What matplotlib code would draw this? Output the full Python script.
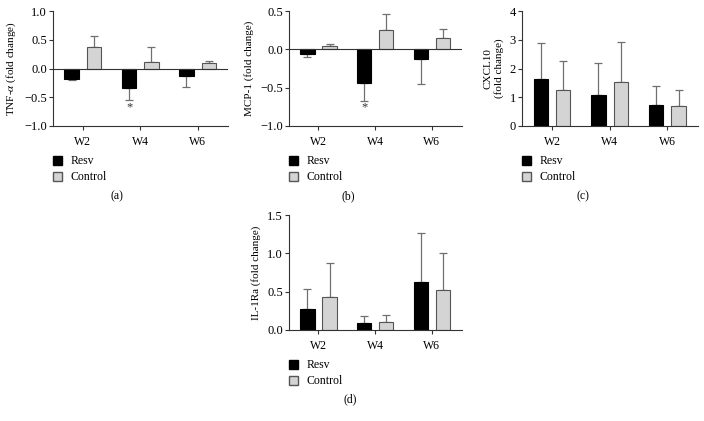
import numpy as np
import matplotlib
matplotlib.use("Agg")
import matplotlib.pyplot as plt
from matplotlib.patches import Patch

plt.rcParams['font.family'] = ['Liberation Serif', 'DejaVu Serif']
plt.rcParams['mathtext.fontset'] = 'stix'
plt.rcParams['font.size'] = 8
plt.rcParams['axes.linewidth'] = 0.8

weeks = ['W2', 'W4', 'W6']

# means and one-sided errors (in the direction of the bar)
tnf_resv = [-0.18, -0.345, -0.13]
tnf_resv_err = [0.025, 0.21, 0.20]
tnf_ctrl = [0.37, 0.11, 0.09]
tnf_ctrl_err = [0.20, 0.27, 0.04]

mcp_resv = [-0.065, -0.44, -0.125]
mcp_resv_err = [0.03, 0.23, 0.33]
mcp_ctrl = [0.05, 0.255, 0.145]
mcp_ctrl_err = [0.015, 0.20, 0.115]

cxcl_resv = [1.63, 1.09, 0.72]
cxcl_resv_err = [1.24, 1.09, 0.68]
cxcl_ctrl = [1.24, 1.52, 0.71]
cxcl_ctrl_err = [1.01, 1.41, 0.55]

il_resv = [0.28, 0.095, 0.625]
il_resv_err = [0.25, 0.09, 0.635]
il_ctrl = [0.43, 0.105, 0.52]
il_ctrl_err = [0.44, 0.085, 0.48]

W, H = 704, 421
fig = plt.figure(figsize=(W / 100, H / 100), dpi=100)


def add_ax(left, right, top, bottom):
    return fig.add_axes([left / W, 1 - bottom / H, (right - left) / W, (bottom - top) / H])


def panel(ax, resv, resv_err, ctrl, ctrl_err, ylim, yticks, ylabel, star=None):
    x = np.arange(len(weeks))
    w = 0.25
    off = 0.195
    for vals, errs, dx, fc, ec in [(resv, resv_err, -off, 'black', 'black'),
                                   (ctrl, ctrl_err, off, '#d4d4d4', '#555555')]:
        vals = np.array(vals)
        errs = np.array(errs)
        ax.bar(x + dx, vals, w, color=fc, edgecolor=ec, linewidth=0.8, zorder=2)
        lower = np.where(vals < 0, errs, 0)
        upper = np.where(vals >= 0, errs, 0)
        ax.errorbar(x + dx, vals, yerr=[lower, upper], fmt='none', ecolor='#707070',
                    elinewidth=0.9, capsize=3, capthick=0.9, zorder=1)
    if ylim[0] < 0:
        ax.axhline(0, color='#333333', lw=0.8, zorder=3)
    if star is not None:
        ax.text(star[0] - off, star[1], '*', ha='center', va='center', fontsize=9, color='#333333')
    ax.set_ylim(*ylim)
    ax.set_yticks(yticks)
    if any(isinstance(t, float) for t in yticks):
        ax.set_yticklabels([f'{t:.1f}'.replace('-', '\u2212') for t in yticks])
    ax.set_xlim(-0.52, 2.53)
    ax.set_xticks(x)
    ax.set_xticklabels(weeks)
    ax.set_ylabel(ylabel, fontsize=8)
    for s in ['top', 'right']:
        ax.spines[s].set_visible(False)
    for s in ['left', 'bottom']:
        ax.spines[s].set_color('#333333')
    ax.tick_params(axis='both', length=3, width=0.8, color='#333333')
    ax.tick_params(axis='y', pad=1.5, labelsize=9)
    ax.tick_params(axis='x', pad=4, labelsize=8.5)
    handles = [Patch(facecolor='black', edgecolor='black', label='Resv'),
               Patch(facecolor='#d4d4d4', edgecolor='#555555', label='Control')]
    ax.legend(handles=handles, loc='upper left', bbox_to_anchor=(0.0, -0.255),
              frameon=False, handlelength=0.75, handleheight=0.75, handletextpad=0.7,
              labelspacing=0.35, borderpad=0, borderaxespad=0, fontsize=8.5)


ax_a = add_ax(53, 228, 11, 126)
panel(ax_a, tnf_resv, tnf_resv_err, tnf_ctrl, tnf_ctrl_err, (-1, 1),
      [-1.0, -0.5, 0.0, 0.5, 1.0], r'TNF-$\alpha$ (fold change)', star=(1, -0.68))

ax_b = add_ax(289, 462, 11, 126)
panel(ax_b, mcp_resv, mcp_resv_err, mcp_ctrl, mcp_ctrl_err, (-1, 0.5),
      [-1.0, -0.5, 0.0, 0.5], 'MCP-1 (fold change)', star=(1, -0.76))

ax_c = add_ax(522, 698, 11, 126)
panel(ax_c, cxcl_resv, cxcl_resv_err, cxcl_ctrl, cxcl_ctrl_err, (0, 4),
      [0, 1, 2, 3, 4], 'CXCL10\n(fold change)')

ax_d = add_ax(289, 462, 215, 330)
panel(ax_d, il_resv, il_resv_err, il_ctrl, il_ctrl_err, (0, 1.5),
      [0.0, 0.5, 1.0, 1.5], 'IL-1Ra (fold change)')

for lab, px, py in [('(a)', 117, 196), ('(b)', 348, 196), ('(c)', 583, 196), ('(d)', 350, 399)]:
    fig.text(px / W, 1 - py / H, lab, ha='center', va='center', fontsize=8.5)

fig.savefig('out.png', dpi=100)
